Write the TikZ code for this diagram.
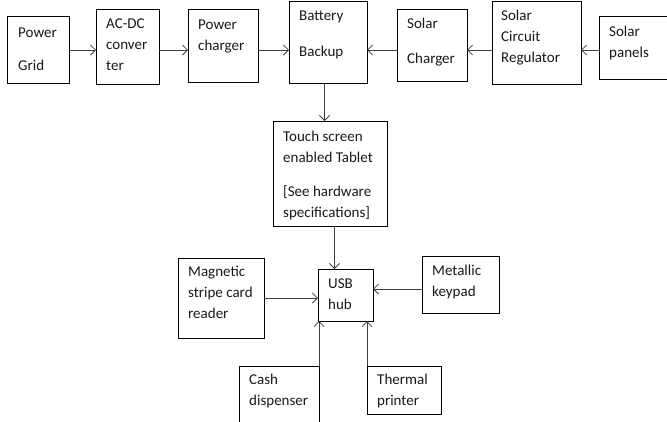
\documentclass[tikz,border=0pt]{standalone}
\usepackage{fontspec}
\setmainfont{Carlito}
\usetikzlibrary{arrows.meta,calc}
\begin{document}
\begin{tikzpicture}[x=1pt,y=-1pt,
  box/.style={draw=black,line width=0.8pt,inner sep=0pt,outer sep=0pt,anchor=north west},
  txt/.style={anchor=base west,inner sep=0pt,align=left,text=black!90,
     font=\fontsize{15}{21}\selectfont},
  conn/.style={draw=black!75,line width=0.8pt,-{Straight Barb[length=5pt,width=10pt,line width=0.8pt]}}]
\useasboundingbox[fill=white] (0,0) rectangle (667,421);
% boxes
\node[box,minimum width=62pt,minimum height=67pt] (pg) at (7,16) {};
\node[box,minimum width=63pt,minimum height=75pt] (acdc) at (96,9) {};
\node[box,minimum width=70pt,minimum height=73pt] (pc) at (188,9) {};
\node[box,minimum width=78pt,minimum height=82pt] (bat) at (289,1) {};
\node[box,minimum width=70pt,minimum height=72pt] (sc) at (397,9) {};
\node[box,minimum width=89pt,minimum height=83pt] (scr) at (492,1) {};
\node[box,minimum width=80pt,minimum height=63pt] (sp) at (599,16) {};
\node[box,minimum width=114pt,minimum height=105pt] (tab) at (273,121) {};
\node[box,minimum width=55pt,minimum height=52pt] (usb) at (318,269) {};
\node[box,minimum width=86pt,minimum height=80pt] (mag) at (178,258) {};
\node[box,minimum width=77pt,minimum height=57pt] (key) at (422,256) {};
\node[box,minimum width=80pt,minimum height=70pt] (cash) at (239,366) {};
\node[box,minimum width=74pt,minimum height=48pt] (tp) at (367,366) {};
% texts (anchored at the baseline of the last line)
\node[txt] at (18,70) {Power\\[12pt]Grid};
\node[txt] at (106,70) {AC-DC\\conver\\ter};
\node[txt] at (198,50) {Power\\charger};
\node[txt] at (299,56) {Battery\\[15pt]Backup};
\node[txt] at (407,63) {Solar\\[14pt]Charger};
\node[txt] at (501,62) {Solar\\Circuit\\Regulator};
\node[txt] at (609,57) {Solar\\panels};
\node[txt] at (283,217) {Touch screen\\enabled Tablet\\[13pt][See hardware\\specifications]};
\node[txt] at (188,318) {Magnetic\\stripe card\\reader};
\node[txt] at (328,309) {USB\\hub};
\node[txt] at (432,296) {Metallic\\keypad};
\node[txt] at (249,405) {Cash\\dispenser};
\node[txt] at (377,405) {Thermal\\printer};
% connectors
\coordinate (ly) at (0,50);
\draw[conn] (pg.east |- ly) -- (acdc.west |- ly);
\draw[conn] (acdc.east |- ly) -- (pc.west |- ly);
\draw[conn] (pc.east |- ly) -- (bat.west |- ly);
\draw[conn] (sc.west |- ly) -- (bat.east |- ly);
\draw[conn] (scr.west |- ly) -- (sc.east |- ly);
\draw[conn] (sp.west |- ly) -- (scr.east |- ly);
\coordinate (bx) at (324.5,0);
\draw[conn] (bat.south -| bx) -- (tab.north -| bx);
\coordinate (tx) at (334.5,0);
\draw[conn] (tab.south -| tx) -- (usb.north -| tx);
\draw[conn] (mag.east |- 0,298) -- (usb.west |- 0,298);
\draw[conn] (key.west |- 0,289) -- (usb.east |- 0,289);
\draw[conn] (cash.north east) -- (usb.south -| cash.north east);
\draw[conn] (tp.north west) -- (usb.south -| tp.north west);
\end{tikzpicture}
\end{document}
